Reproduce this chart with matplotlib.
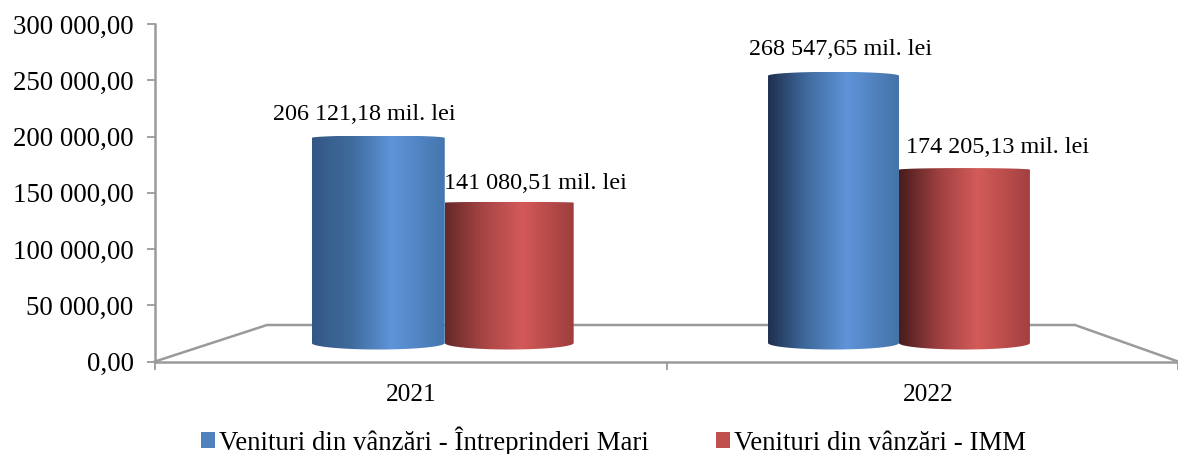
import numpy as np
import matplotlib
matplotlib.use("Agg")
import matplotlib.pyplot as plt
from matplotlib.colors import LinearSegmentedColormap
from matplotlib.patches import Patch, PathPatch
from matplotlib.path import Path

years = ["2021", "2022"]
large = [206121.18, 268547.65]
imm = [141080.51, 174205.13]
large_labels = ["206 121,18 mil. lei", "268 547,65 mil. lei"]
imm_labels = ["141 080,51 mil. lei", "174 205,13 mil. lei"]
y_ticks = [0, 50000, 100000, 150000, 200000, 250000, 300000]
y_tick_labels = ["0,00", "50 000,00", "100 000,00", "150 000,00", "200 000,00", "250 000,00", "300 000,00"]
series_names = ["Venituri din vânzări - Întreprinderi Mari", "Venituri din vânzări - IMM"]

W, H = 1178, 454
plt.rcParams["font.family"] = ["Liberation Serif", "DejaVu Serif"]
fig = plt.figure(figsize=(W / 100, H / 100), dpi=100)
ax = fig.add_axes([155 / W, 1 - 361.5 / H, 1023 / W, 337.5 / H])
ax.set_xlim(0, 2)
ax.set_ylim(0, 300000)

GRAY = "#9a9a9a"
for s in ("top", "right"):
    ax.spines[s].set_visible(False)
for s in ("left", "bottom"):
    ax.spines[s].set_color(GRAY)
    ax.spines[s].set_linewidth(1.8)
ax.set_yticks(y_ticks, y_tick_labels)
ax.set_xticks([0, 1, 2], ["", "", ""])
ax.set_xticks([0.5, 1.511], years, minor=True)
ax.tick_params(axis="both", which="major", color=GRAY, width=1.3, length=5.8, labelcolor="black")
ax.tick_params(axis="y", labelsize=19.4, pad=9.5)
ax.tick_params(axis="x", which="minor", length=0, labelsize=18.2, pad=16)

# floor of the pseudo-3D plot
px_y = 300000 / 337.5
floor_back = 36.5 * px_y
ax.plot([0, 112 / 511.5, 920 / 511.5, 2], [0, floor_back, floor_back, 0], color=GRAY, lw=1.8, clip_on=False, zorder=1)

# pseudo-3D projection of the bars
BASE = 18.5 * px_y
SCALE = 0.995 / 1000 * px_y
BAR_W = 0.256
ARC_BOTTOM = 6.5 * px_y
CENTER = [0.5665, 1.4545]
LEFT_W = [0.26, 0.256]
RIGHT_W = [0.252, 0.256]

blue = [[(0.20, 0.34, 0.52), (0.25, 0.42, 0.62), (0.37, 0.58, 0.85), (0.27, 0.46, 0.68)],
        [(0.12, 0.19, 0.31), (0.25, 0.42, 0.62), (0.37, 0.58, 0.85), (0.27, 0.45, 0.66)]]
red = [[(0.40, 0.16, 0.16), (0.66, 0.27, 0.27), (0.83, 0.35, 0.35), (0.62, 0.24, 0.24)],
       [(0.28, 0.11, 0.11), (0.62, 0.25, 0.25), (0.83, 0.36, 0.35), (0.64, 0.25, 0.25)]]


def cylinder(x0, width, value, stops):
    x1 = x0 + width
    top = BASE + value * SCALE
    arc_top = max(value / 1000 - 110, 10) / 40 * px_y
    t = np.linspace(0, np.pi, 60)
    xm, xr = (x0 + x1) / 2, width / 2
    low_x = xm - xr * np.cos(t)
    low_y = BASE - ARC_BOTTOM * np.sin(t)
    up_x = xm + xr * np.cos(t)
    up_y = top + arc_top * np.sin(t)
    verts = np.column_stack([np.r_[low_x, up_x], np.r_[low_y, up_y]])
    clip = PathPatch(Path(verts), transform=ax.transData, fc="none", ec="none")
    ax.add_patch(clip)
    cmap = LinearSegmentedColormap.from_list("c", list(zip([0, 0.3, 0.6, 1], stops)))
    im = ax.imshow(np.linspace(0, 1, 256)[None, :], cmap=cmap, aspect="auto", zorder=3,
                   extent=(x0, x1, BASE - ARC_BOTTOM, top + arc_top), interpolation="bilinear")
    im.set_clip_path(clip)
    return top


for i in range(2):
    cylinder(CENTER[i] - LEFT_W[i], LEFT_W[i], large[i], blue[i])
    cylinder(CENTER[i], RIGHT_W[i], imm[i], red[i])
ax.set_xlim(0, 2)
ax.set_ylim(0, 300000)

# data labels: offsets in pixels from the middle of each cylinder's top
label_size = 17.4
large_off = [(-15, 23), (7, 26)]
imm_off = [(25, 19), (33, 22)]
for i in range(2):
    ax.annotate(large_labels[i], (CENTER[i] - BAR_W / 2, BASE + large[i] * SCALE), xytext=large_off[i],
                textcoords="offset pixels", ha="center", va="center", fontsize=label_size, zorder=5)
    ax.annotate(imm_labels[i], (CENTER[i] + BAR_W / 2, BASE + imm[i] * SCALE), xytext=imm_off[i],
                textcoords="offset pixels", ha="center", va="center", fontsize=label_size, zorder=5)

handles = [Patch(fc="#4f81bd", ec="none"), Patch(fc="#c0504d", ec="none")]
fig.legend(handles, series_names, loc="center left", bbox_to_anchor=(201 / W, 1 - 441 / H), ncol=2, frameon=False,
           fontsize=19.3, handlelength=0.52, handleheight=0.55, handletextpad=0.16, columnspacing=2.48,
           borderpad=0, borderaxespad=0)

fig.savefig("out.png", dpi=100)
